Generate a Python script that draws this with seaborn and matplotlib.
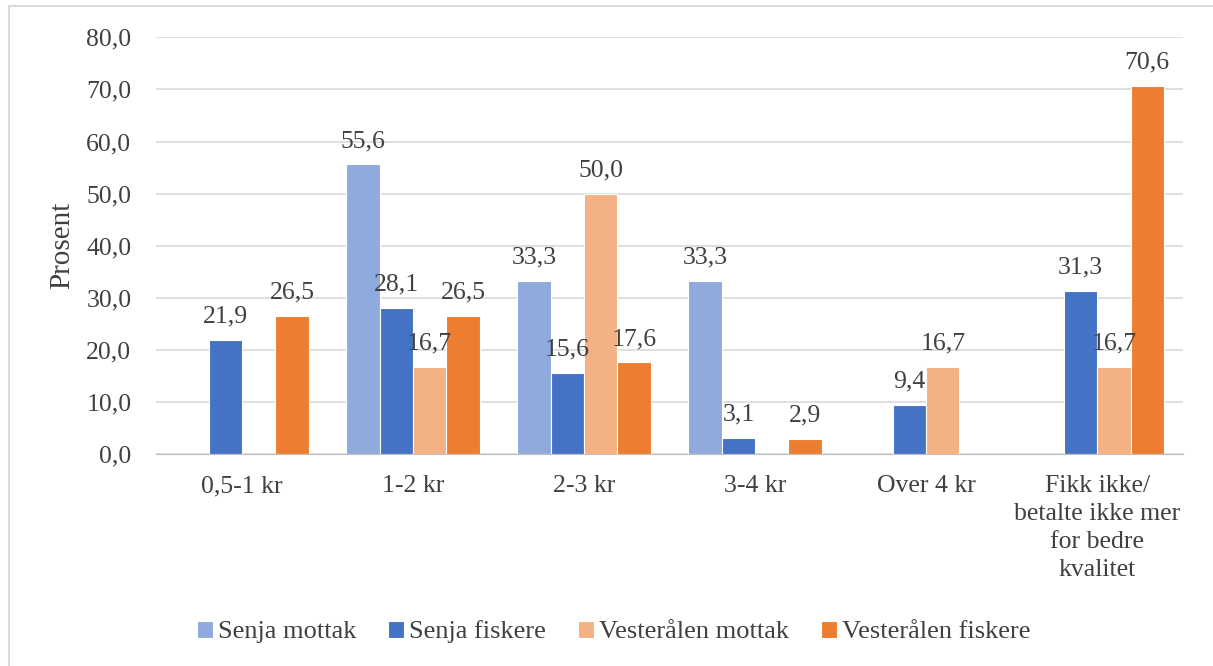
import numpy as np
import pandas as pd
import matplotlib.pyplot as plt
import seaborn as sns
from matplotlib.patches import Rectangle

categories = ['0,5-1 kr', '1-2 kr', '2-3 kr', '3-4 kr', 'Over 4 kr',
              'Fikk ikke/\nbetalte ikke mer\nfor bedre\nkvalitet']
series = ['Senja mottak', 'Senja fiskere', 'Vesterålen mottak', 'Vesterålen fiskere']
senja_mottak = [np.nan, 55.6, 33.3, 33.3, np.nan, np.nan]
senja_fiskere = [21.9, 28.1, 15.6, 3.1, 9.4, 31.3]
vesteralen_mottak = [np.nan, 16.7, 50.0, np.nan, 16.7, 16.7]
vesteralen_fiskere = [26.5, 26.5, 17.6, 2.9, np.nan, 70.6]

colors = ['#8FAADC', '#4472C4', '#F4B183', '#ED7D31']

rows = []
for name, vals in zip(series, [senja_mottak, senja_fiskere, vesteralen_mottak, vesteralen_fiskere]):
    for cat, v in zip(categories, vals):
        rows.append({'kategori': cat, 'serie': name, 'prosent': v})
df = pd.DataFrame(rows)

sns.set_style('white')
plt.rcParams['font.family'] = ['Liberation Serif', 'DejaVu Serif']
text_col = '#404040'
fs = 18.5

fig = plt.figure(figsize=(12.13, 6.66), dpi=100)
ax = fig.add_axes([0.129, 0.318, 0.846, 0.626])

sns.barplot(data=df, x='kategori', y='prosent', hue='serie', order=categories,
            hue_order=series, palette=colors, width=0.78, ax=ax,
            errorbar=None, edgecolor='white', linewidth=0.8, saturation=1)

for c in ax.containers:
    labels = [f"{v:.1f}".replace('.', ',') for v in c.datavalues]
    ax.bar_label(c, labels=labels, padding=9, fontsize=fs, color=text_col)

ax.set_ylim(0, 80)
ax.set_yticks(range(0, 81, 10))
ax.set_yticklabels([f"{v:.1f}".replace('.', ',') for v in range(0, 81, 10)])
ax.yaxis.grid(True, color='#D9D9D9', linewidth=1.2)
ax.set_axisbelow(True)
for s in ['top', 'right', 'left']:
    ax.spines[s].set_visible(False)
ax.spines['bottom'].set_color('#BFBFBF')
ax.tick_params(axis='both', length=0, labelsize=fs, labelcolor=text_col)
ax.tick_params(axis='y', pad=18)
ax.tick_params(axis='x', pad=15)
for t in ax.get_xticklabels():
    t.set_linespacing(1.35)
ax.set_xlabel('')
ax.set_ylabel('Prosent', fontsize=21, color=text_col, labelpad=8)
ax.set_xlim(-0.5, 5.5)

ax.legend_.remove()
handles = ax.containers
leg = fig.legend(handles, series, loc='center', bbox_to_anchor=(0.506, 1 - 632 / 666),
                 ncol=4, frameon=False, fontsize=19, handlelength=0.6, handleheight=0.6,
                 columnspacing=1.2, handletextpad=0.2)
for t in leg.get_texts():
    t.set_color(text_col)

fig.patches.append(Rectangle((9 / 1213, -0.1), 1.2, 1 - 6 / 666 + 0.1,
                             transform=fig.transFigure, fill=False,
                             edgecolor='#D9D9D9', linewidth=1.5))

fig.savefig('out.png', dpi=100)
